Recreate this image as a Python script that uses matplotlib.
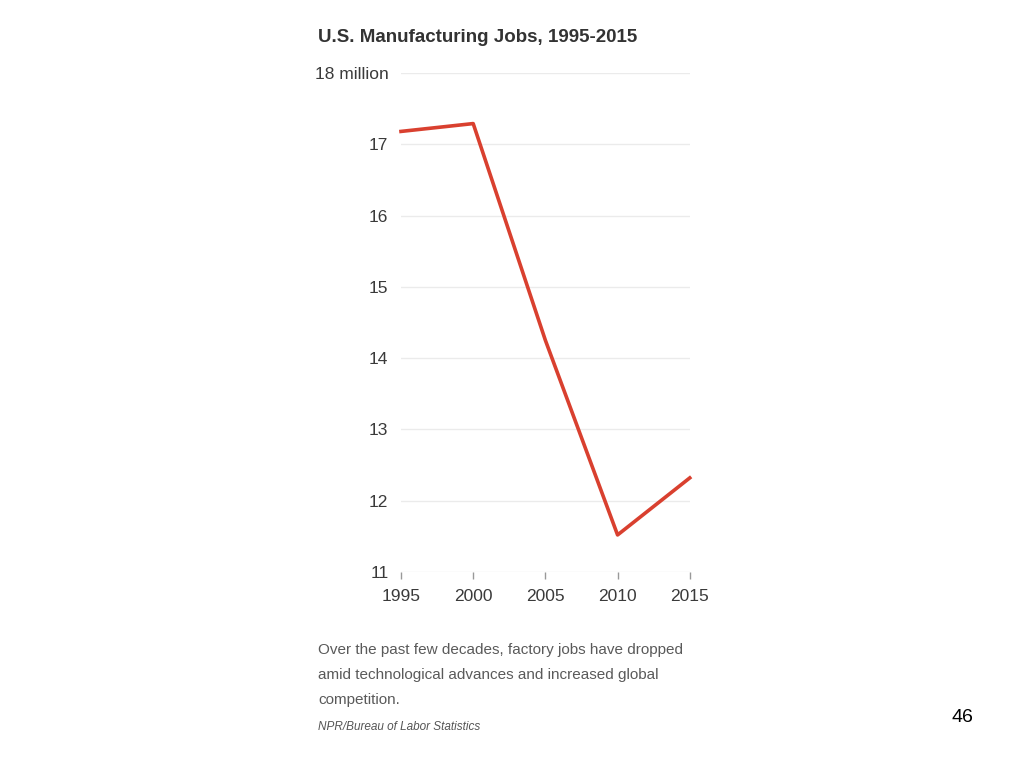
import matplotlib
matplotlib.use("Agg")
import matplotlib.pyplot as plt

# data (millions of jobs)
years = [1995, 2000, 2005, 2010, 2015]
jobs = [17.18, 17.29, 14.25, 11.52, 12.32]
y_ticks = [11, 12, 13, 14, 15, 16, 17, 18]
y_labels = ["11", "12", "13", "14", "15", "16", "17", "18 million"]

title = "U.S. Manufacturing Jobs, 1995-2015"
caption_lines = ["Over the past few decades, factory jobs have dropped",
                 "amid technological advances and increased global",
                 "competition."]
source = "NPR/Bureau of Labor Statistics"

sans = ["Liberation Sans", "DejaVu Sans"]

fig = plt.figure(figsize=(10.24, 7.68), dpi=100)
ax = fig.add_axes([0.3916, 0.2552, 0.282, 0.6498])

ax.plot(years, jobs, color="#d9402f", lw=2.6, clip_on=False, zorder=3)

ax.set_xlim(1995, 2015)
ax.set_ylim(11, 18)
ax.set_yticks(y_ticks)
ax.set_yticklabels(y_labels, family=sans, fontsize=12.5, color="#3a3a3a")
ax.set_xticks(years)
ax.set_xticklabels([str(y) for y in years], family=sans, fontsize=12.5,
                   color="#3a3a3a")
ax.tick_params(axis="y", length=0, pad=9)
ax.tick_params(axis="x", length=5, width=1, color="#999999", pad=7,
               direction="out")
ax.grid(axis="y", color="#ebebeb", lw=1)
for s in ax.spines.values():
    s.set_visible(False)

fig.text(0.3105, 0.951, title, family=sans, fontweight="bold", fontsize=13.5,
         color="#333333", va="center")
# caption lines sit ~25 px apart
for i, line in enumerate(caption_lines):
    fig.text(0.3105, 0.1536 - i * 0.0326, line, family=sans, fontsize=11,
             color="#5a5a5a", va="center")
fig.text(0.3105, 0.054, source, family=sans, style="italic", fontsize=8.5,
         color="#555555", va="center")
fig.text(0.929, 0.066, "46", family=sans, fontsize=14, color="black",
         va="center")

fig.savefig("out.png", dpi=100)
